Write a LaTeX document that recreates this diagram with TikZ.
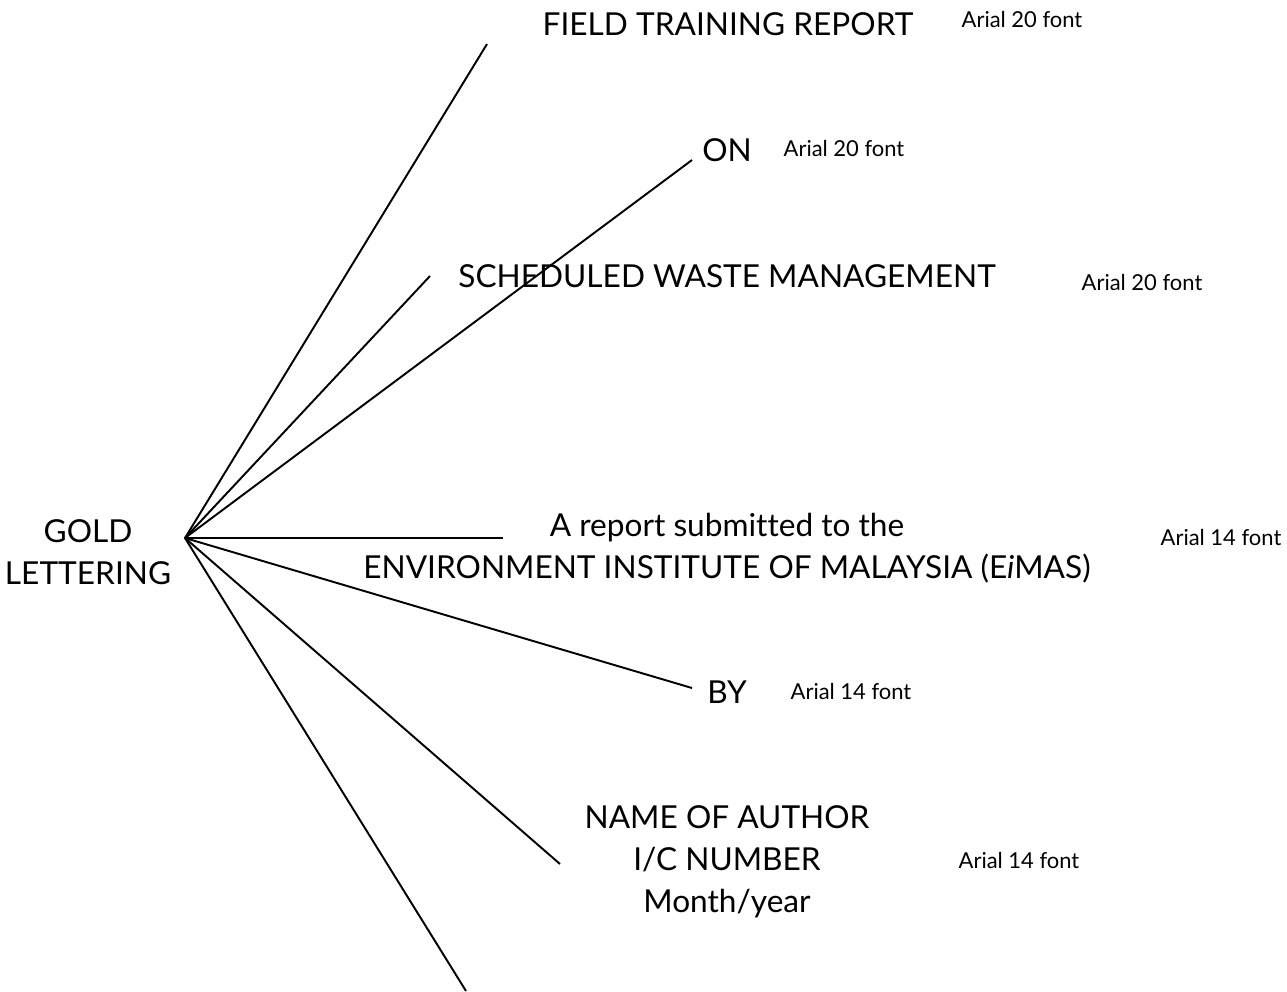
\documentclass[tikz,border=0pt]{standalone}
\usepackage{fontspec}
\setmainfont{Lato}[Ligatures=NoCommon]
\usetikzlibrary{positioning}

\tikzset{
  big/.style={font=\fontsize{18}{23.8}\selectfont, align=center, inner sep=0pt},
  note/.style={font=\fontsize{12.5}{14}\selectfont, inner sep=0pt, anchor=base},
  spoke/.style={line width=1.1pt},
}

\begin{document}
\begin{tikzpicture}[x=0.02cm,y=-0.02cm]
    \useasboundingbox (0,0) rectangle (1287,991);
    % the spine label and the point all spokes leave from
    \node[big] (gold) at (88,552) {GOLD\\LETTERING};
    \coordinate (hub) at (185,538);
    \foreach \n/\x/\y in {s1/487/44, s2/692/160, s3/430/276, s4/503/538,
                           s5/692/688, s6/560/864, s7/466/991}
        \coordinate (\n) at (\x,\y);
    \foreach \n in {s1,s2,s3,s4,s5,s6,s7}
        \draw[spoke] (hub) -- (\n);

    % cover texts
    \node[big,anchor=base] (title) at (728,35) {FIELD TRAINING REPORT};
    \node[big,anchor=base] (on) at (727,161) {ON};
    \node[big,anchor=base] (topic) at (727,287) {SCHEDULED WASTE MANAGEMENT};
    \node[big] (submitted) at (727,548)
        {A report submitted to the\\ENVIRONMENT INSTITUTE OF MALAYSIA (E\textit{i}MAS)};
    \node[big,anchor=base] (by) at (727,703) {BY};
    \node[big] (author) at (727,862) {NAME OF AUTHOR\\I/C NUMBER\\Month/year};

    % font notes on the right
    \node[note] (n1) at (1022,27) {Arial 20 font};
    \node[note] (n2) at (844,156) {Arial 20 font};
    \node[note] (n3) at (1142,290) {Arial 20 font};
    \node[note] (n4) at (1221,545) {Arial 14 font};
    \node[note] (n5) at (851,699) {Arial 14 font};
    \node[note] (n6) at (1019,868) {Arial 14 font};
\end{tikzpicture}
\end{document}
